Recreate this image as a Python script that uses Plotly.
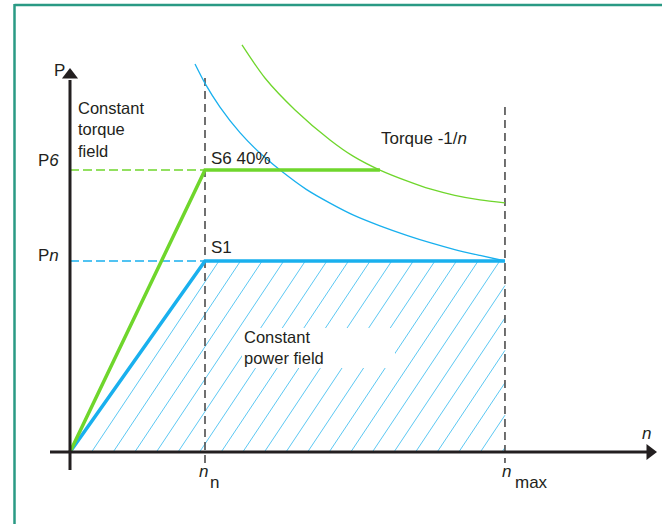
import plotly.graph_objects as go

# ---------------- data ----------------
N_RATED = 1.0      # n_n
N_MAX = 3.222      # n_max
P_RATED = 1.0      # P_n
P_S6 = 1.476       # P_6

s1_n = [0.0, N_RATED, N_MAX]
s1_P = [0.0, P_RATED, P_RATED]

s6_n = [0.0, N_RATED, 2.296]
s6_P = [0.0, P_S6, P_S6]

blue_curve_n = [0.926, 1.0, 1.111, 1.259, 1.407, 1.556, 1.75, 1.926, 2.1, 2.296, 2.5, 2.667, 2.85, 3.037, 3.222]
blue_curve_P = [2.031, 1.93, 1.806, 1.672, 1.565, 1.476, 1.375, 1.303, 1.240, 1.184, 1.133, 1.096, 1.060, 1.029, 1.000]

green_curve_n = [1.274, 1.444, 1.667, 1.926, 2.1, 2.296, 2.5, 2.667, 2.85, 3.037, 3.222]
green_curve_P = [2.131, 1.958, 1.791, 1.634, 1.548, 1.476, 1.418, 1.377, 1.344, 1.320, 1.304]

# ---------------- pixel <-> data helpers ----------------
W, H = 662, 524
X0PX, Y0PX = 70.0, 452.0     # origin pixel
SX, SY = 135.0, 191.0        # pixels per unit


def nx(px):
    return (px - X0PX) / SX


def py(pyx):
    return (Y0PX - pyx) / SY


BLUE = "#19b0ee"
BLUE_HATCH = "#5cc8f3"
GREEN = "#6fd62c"
DARK = "#231f20"
GREY = "#4d4d4d"
TEAL = "#2a9a84"
FONT = "Liberation Sans, Arial, sans-serif"
FS = 17

fig = go.Figure()

# hatch lines of the constant power field
spacing = 21.6 / SX
slope = 1.5 * SX / SY
hx, hy = [], []
k = 1
while k * spacing < N_MAX:
    x0 = k * spacing
    x1 = x0 + P_RATED / slope
    if x1 > N_MAX:
        x1 = N_MAX
    y1 = slope * (x1 - x0)
    hx += [x0, x1, None]
    hy += [0, y1, None]
    k += 1
fig.add_trace(go.Scatter(x=hx, y=hy, mode="lines",
                         line=dict(color=BLUE_HATCH, width=1), hoverinfo="skip"))

# vertical dashed lines at n_n and n_max
fig.add_trace(go.Scatter(x=[N_RATED, N_RATED], y=[py(78), py(463)], mode="lines",
                         line=dict(color=GREY, width=1.6, dash="8px,5px")))
fig.add_trace(go.Scatter(x=[N_MAX, N_MAX], y=[py(107), py(463)], mode="lines",
                         line=dict(color=GREY, width=1.6, dash="8px,5px")))

# horizontal dashed guides
fig.add_trace(go.Scatter(x=[0, N_RATED], y=[P_S6, P_S6], mode="lines",
                         line=dict(color=GREEN, width=1.5, dash="9px,4px")))
fig.add_trace(go.Scatter(x=[0, N_RATED], y=[P_RATED, P_RATED], mode="lines",
                         line=dict(color=BLUE, width=1.5, dash="9px,4px")))

# torque curves
fig.add_trace(go.Scatter(x=blue_curve_n, y=blue_curve_P, mode="lines",
                         line=dict(color=BLUE, width=1.3, shape="spline", smoothing=0.8)))
fig.add_trace(go.Scatter(x=green_curve_n, y=green_curve_P, mode="lines",
                         line=dict(color=GREEN, width=1.3, shape="spline", smoothing=0.8)))

# S1 and S6 characteristic lines
fig.add_trace(go.Scatter(x=s1_n, y=s1_P, mode="lines",
                         line=dict(color=BLUE, width=3.5)))
fig.add_trace(go.Scatter(x=s6_n, y=s6_P, mode="lines",
                         line=dict(color=GREEN, width=3.5)))

# axes with arrows
fig.add_trace(go.Scatter(x=[nx(50), nx(650)], y=[0, 0], mode="lines",
                         line=dict(color=DARK, width=3)))
fig.add_trace(go.Scatter(x=[0, 0], y=[py(470), py(80)], mode="lines",
                         line=dict(color=DARK, width=3)))
fig.add_trace(go.Scatter(x=[nx(650)], y=[0], mode="markers",
                         marker=dict(symbol="triangle-right", size=14, color=DARK, line=dict(width=0))))
fig.add_trace(go.Scatter(x=[0], y=[py(75)], mode="markers",
                         marker=dict(symbol="triangle-up", size=14, color=DARK, line=dict(width=0))))

shapes = [
    # white box behind "Constant power field"
    dict(type="rect", xref="x", yref="y", x0=nx(242), x1=nx(395), y0=py(328), y1=py(368),
         fillcolor="white", line=dict(width=0), layer="above"),
    # frame
    dict(type="line", xref="paper", yref="paper", x0=14.5 / W, x1=1.0, y0=1 - 5 / H, y1=1 - 5 / H,
         line=dict(color=TEAL, width=2.5)),
    dict(type="line", xref="paper", yref="paper", x0=14.5 / W, x1=14.5 / W, y0=1 - 4 / H, y1=0,
         line=dict(color=TEAL, width=2.5)),
]


def txt(text, px, pyy, xanchor="left", size=FS):
    return dict(text=text, x=nx(px), y=py(pyy), xref="x", yref="y", showarrow=False,
                xanchor=xanchor, yanchor="middle", align="left",
                font=dict(family=FONT, size=size, color=DARK))


annotations = [
    txt("P", 59, 70, "center"),
    txt("Constant<br>torque<br>field", 76, 129.5, size=16.5),
    txt("P<i>6</i>", 61, 160, "right"),
    txt("P<i>n</i>", 61, 255, "right"),
    txt("S6 40%", 209, 158),
    txt("S1", 209, 247),
    txt("Torque -1/<i>n</i>", 379, 138),
    txt("Constant<br>power field", 242, 347.5, size=16.5),
    txt("<i>n</i>", 646, 433, "center"),
    txt("<i>n</i>", 203, 471, "center"),
    txt("n", 214, 482, "center"),
    txt("<i>n</i>", 506, 471, "center"),
    txt("max", 513, 482, "left"),
]

fig.update_layout(
    width=W, height=H, margin=dict(l=0, r=0, t=0, b=0),
    paper_bgcolor="white", plot_bgcolor="white", showlegend=False,
    xaxis=dict(range=[nx(0), nx(W)], visible=False, fixedrange=True),
    yaxis=dict(range=[py(H), py(0)], visible=False, fixedrange=True),
    shapes=shapes, annotations=annotations,
)

fig.write_html(
    "out.html",
    config={"displayModeBar": False},
    post_script="document.body.style.margin='0';document.body.style.overflow='hidden';",
)
